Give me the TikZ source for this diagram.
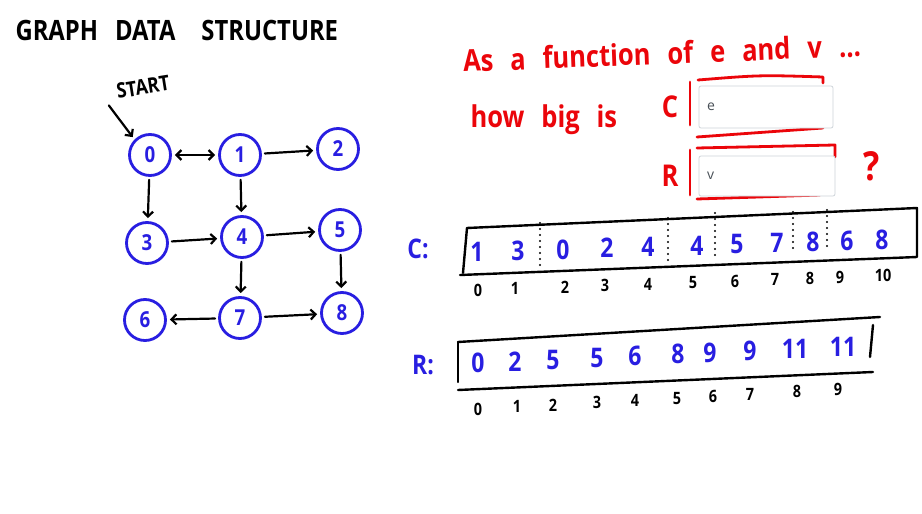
\documentclass[tikz,border=0pt]{standalone}
\usepackage{fontspec}
\setmainfont{Open Sans}[FakeStretch=0.85]
\newfontfamily\uifont{Open Sans}
\usepackage{xcolor}
\usetikzlibrary{arrows.meta}
\definecolor{penblue}{RGB}{40,30,225}
\definecolor{penred}{RGB}{235,5,10}
\definecolor{boxgray}{RGB}{206,212,218}
\definecolor{inputtext}{RGB}{73,80,87}

\begin{document}
\begin{tikzpicture}[x=1pt,y=-1pt,>={Straight Barb[length=5pt,width=10pt]},line cap=round,line join=round,
  vertex/.style={circle,draw=penblue,line width=2.8pt,minimum size=41pt,inner sep=0pt,text=penblue,font=\bfseries\fontsize{22}{22}\selectfont},
  edge/.style={->,line width=2.2pt,shorten >=3pt,shorten <=3pt},
  cell/.style={text=penblue,font=\bfseries\fontsize{27}{27}\selectfont},
  idx/.style={font=\bfseries\fontsize{17}{17}\selectfont},
  pen/.style={line width=2.4pt},
  redpen/.style={penred,line width=2.8pt},
  redtext/.style={penred,font=\bfseries\fontsize{30}{30}\selectfont},
  answer/.style={draw=boxgray,fill=white,line width=0.8pt,rounded corners=2pt,text=inputtext,font=\uifont\fontsize{14}{14}\selectfont,align=left,inner xsep=8pt}]
	\fill[white] (0,0) rectangle (922,514);

	\node (title) [anchor=west, font=\bfseries\fontsize{28}{28}\selectfont] at (12,30) {GRAPH\hspace{17pt}DATA\hspace{26pt}STRUCTURE};

	% the graph
	\node (start) [rotate=9, font=\bfseries\fontsize{21}{21}\selectfont] at (143,87) {START};
	\node (n0) [vertex] at (150,155) {0};
	\node (n1) [vertex] at (240,155) {1};
	\node (n2) [vertex] at (338,149) {2};
	\node (n3) [vertex] at (147,243) {3};
	\node (n4) [vertex] at (242,237) {4};
	\node (n5) [vertex] at (340,230) {5};
	\node (n6) [vertex] at (145,320) {6};
	\node (n7) [vertex] at (240,318) {7};
	\node (n8) [vertex] at (342,313) {8};
	\coordinate (startfrom) at (107,103);
	\draw[edge] (startfrom) to (n0.135);
	\draw[edge,<->] (n0) to (n1);
	\draw[edge] (n1) to (n2);
	\draw[edge] (n0) to (n3);
	\draw[edge] (n1) to (n4);
	\draw[edge] (n3) to (n4);
	\draw[edge] (n4) to (n5);
	\draw[edge] (n4) to (n7);
	\draw[edge] (n5) to (n8);
	\draw[edge] (n7) to (n6);
	\draw[edge] (n7) to (n8);

	% the question
	\node (question) [redtext, anchor=base west, rotate=2.2] at (460,72) {\spaceskip=17pt As a function of e and v ...};
	\node (howbig) [redtext, anchor=base west] at (467,127) {\spaceskip=17pt how big is};
	\node (clabel) [redtext] at (670,107) {C};
	\node (rlabel) [redtext] at (670,176) {R};
	\node (qmark) [redtext, font=\bfseries\fontsize{40}{40}\selectfont] at (872,166) {?};
	\draw[redpen] (690,82) -- (690,125);
	\draw[redpen] (698,80) .. controls (760,75) .. (823,77) -- (823,83);
	\draw[redpen] (697,137) -- (823,128);
	\draw[redpen] (690,150) -- (690,195);
	\draw[redpen] (697,148) -- (835,145) -- (835,157);
	\draw[redpen] (697,199) -- (820,195);
	\node (cbox) [answer, minimum width=134pt, minimum height=42pt, text width=118pt] at (766,107) {e};
	\node (rbox) [answer, minimum width=136pt, minimum height=40pt, text width=120pt] at (767,176) {v};

	% array C
	\node (cname) [cell] at (418,249) {C:};
	\draw[pen] (467,228) -- (917,208) -- (917,257) -- (460,275);
	\draw[pen] (467,228) -- (463,273);
	\foreach \x/\a/\b in {540/223/270,668/218/262,715/213/255,793/212/250,827/210/248}
		\draw[line width=2.4pt, dash pattern=on 0pt off 6pt] (\x,\a) -- (\x,\b);
	\foreach \v/\x [count=\i from 0] in {1/477,3/518,0/563,2/607,4/648,4/697,5/737,7/777,8/813,6/847,8/882}
		\node (c\i) [cell] at (\x,{252-0.03*(\x-477)}) {\v};
	\foreach \x [count=\i from 0] in {478,515,565,605,648,693,735,775,810,840,883}
		\node (ci\i) [idx] at (\x,{290-0.035*(\x-478)}) {\i};

	% array R
	\node (rname) [cell] at (423,365) {R:};
	\draw[pen] (458,342) -- (880,317);
	\draw[pen] (458,342) -- (458,382);
	\draw[pen] (458,390) -- (873,372);
	\draw[pen] (873,325) -- (870,357);
	\foreach \v/\x [count=\i from 0] in {0/478,2/515,5/553,5/597,6/635,8/678,9/710,9/750,11/795,11/843}
		\node (r\i) [cell] at (\x,{363-0.044*(\x-478)}) {\v};
	\foreach \x [count=\i from 0] in {478,517,553,597,635,677,713,750,797,838}
		\node (ri\i) [idx] at (\x,{409-0.055*(\x-478)}) {\i};
\end{tikzpicture}
\end{document}
